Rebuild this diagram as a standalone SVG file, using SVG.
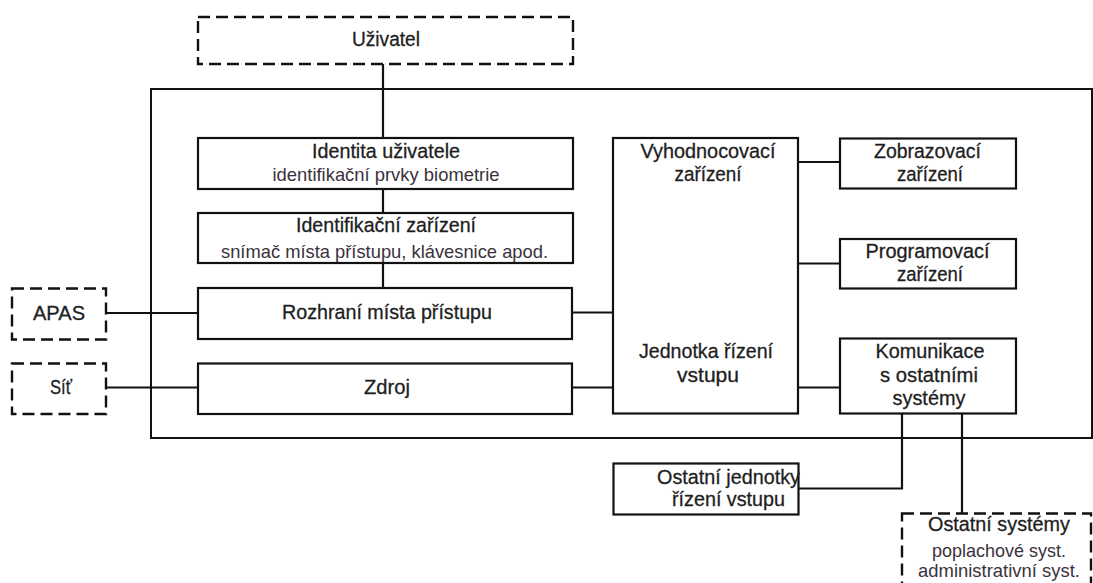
<svg xmlns="http://www.w3.org/2000/svg" width="1093" height="583" viewBox="0 0 1093 583">
<style>
.box{fill:#fff;stroke:#111;stroke-width:2.2}
.dash{fill:#fff;stroke:#111;stroke-width:2.4;stroke-dasharray:12 6}
.frame{fill:none;stroke:#111;stroke-width:2}
.conn line,.conn polyline{stroke:#111;stroke-width:2.2;fill:none}
text{font-family:"Liberation Sans",Arial,sans-serif;text-anchor:middle}
.t{font-size:20.5px;fill:#1e1e1e;stroke:#1e1e1e;stroke-width:0.3}
.s{font-size:19px;fill:#3a323c}
</style>
<rect width="1093" height="583" fill="#fff"/>
<rect id="system-frame" class="frame" x="151" y="89" width="941" height="349"/>
<g id="connectors" class="conn">
<line x1="383" y1="64" x2="383" y2="138"/>
<line x1="383" y1="189" x2="383" y2="213"/>
<line x1="383" y1="263" x2="383" y2="288"/>
<line x1="106" y1="313" x2="198" y2="313"/>
<line x1="106" y1="387.5" x2="198" y2="387.5"/>
<line x1="572" y1="312.5" x2="613" y2="312.5"/>
<line x1="572" y1="387.5" x2="613" y2="387.5"/>
<line x1="798" y1="162" x2="840" y2="162"/>
<line x1="798" y1="263.5" x2="840" y2="263.5"/>
<line x1="798" y1="387.5" x2="840" y2="387.5"/>
<polyline points="902,413.5 902,488.5 798.5,488.5"/>
<line x1="962" y1="413.5" x2="962" y2="513.5"/>
</g>
<g id="uzivatel">
<rect class="dash" x="198" y="17" width="375" height="47"/>
<text class="t" x="386" y="46" textLength="68" lengthAdjust="spacingAndGlyphs">Uživatel</text>
</g>
<g id="identita">
<rect class="box" x="198" y="138" width="375" height="51"/>
<text class="t" x="386" y="157.5" textLength="148" lengthAdjust="spacingAndGlyphs">Identita uživatele</text>
<text class="s" x="386" y="181" textLength="227" lengthAdjust="spacingAndGlyphs">identifikační prvky biometrie</text>
</g>
<g id="identifikacni-zarizeni">
<rect class="box" x="198" y="213" width="375" height="50"/>
<text class="t" x="386" y="231.5" textLength="180" lengthAdjust="spacingAndGlyphs">Identifikační zařízení</text>
<text class="s" x="384.5" y="258" textLength="327" lengthAdjust="spacingAndGlyphs">snímač místa přístupu, klávesnice apod.</text>
</g>
<g id="rozhrani">
<rect class="box" x="198" y="288" width="374" height="51"/>
<text class="t" x="387" y="318.5" textLength="210" lengthAdjust="spacingAndGlyphs">Rozhraní místa přístupu</text>
</g>
<g id="zdroj">
<rect class="box" x="198" y="363.5" width="374" height="50.5"/>
<text class="t" x="387" y="393.5" textLength="46" lengthAdjust="spacingAndGlyphs">Zdroj</text>
</g>
<g id="apas">
<rect class="dash" x="12" y="288.5" width="94" height="51"/>
<text class="t" x="59" y="319.5" textLength="52" lengthAdjust="spacingAndGlyphs">APAS</text>
</g>
<g id="sit">
<rect class="dash" x="12" y="363.5" width="94" height="50.5"/>
<text class="t" x="61" y="394" textLength="22" lengthAdjust="spacingAndGlyphs">Síť</text>
</g>
<g id="jednotka-rizeni">
<rect class="box" x="613" y="138" width="185" height="275.5"/>
<text class="t" x="708" y="157.5" textLength="135" lengthAdjust="spacingAndGlyphs">Vyhodnocovací</text>
<text class="t" x="708" y="181" textLength="67" lengthAdjust="spacingAndGlyphs">zařízení</text>
<text class="t" x="706" y="358" textLength="134" lengthAdjust="spacingAndGlyphs">Jednotka řízení</text>
<text class="t" x="708" y="382" textLength="62" lengthAdjust="spacingAndGlyphs">vstupu</text>
</g>
<g id="zobrazovaci">
<rect class="box" x="840" y="138.5" width="176" height="50"/>
<text class="t" x="927.5" y="157.5" textLength="107" lengthAdjust="spacingAndGlyphs">Zobrazovací</text>
<text class="t" x="930" y="181" textLength="66" lengthAdjust="spacingAndGlyphs">zařízení</text>
</g>
<g id="programovaci">
<rect class="box" x="840" y="239" width="176" height="49.5"/>
<text class="t" x="927.5" y="258" textLength="124" lengthAdjust="spacingAndGlyphs">Programovací</text>
<text class="t" x="930" y="281" textLength="66" lengthAdjust="spacingAndGlyphs">zařízení</text>
</g>
<g id="komunikace">
<rect class="box" x="840" y="338.5" width="176" height="75"/>
<text class="t" x="930" y="357.5" textLength="109" lengthAdjust="spacingAndGlyphs">Komunikace</text>
<text class="t" x="929" y="382" textLength="98" lengthAdjust="spacingAndGlyphs">s ostatními</text>
<text class="t" x="929" y="405" textLength="73" lengthAdjust="spacingAndGlyphs">systémy</text>
</g>
<g id="ostatni-jednotky">
<rect class="box" x="613.5" y="463.5" width="185" height="51"/>
<text class="t" x="728.5" y="483.5" textLength="143" lengthAdjust="spacingAndGlyphs">Ostatní jednotky</text>
<text class="t" x="728.5" y="506" textLength="113" lengthAdjust="spacingAndGlyphs">řízení vstupu</text>
</g>
<g id="ostatni-systemy">
<rect class="dash" x="902" y="513.5" width="189" height="85"/>
<text class="t" x="999" y="531" textLength="142" lengthAdjust="spacingAndGlyphs">Ostatní systémy</text>
<text class="s" x="999" y="557" textLength="134" lengthAdjust="spacingAndGlyphs">poplachové syst.</text>
<text class="s" x="999" y="577" textLength="162" lengthAdjust="spacingAndGlyphs">administrativní syst.</text>
</g>
</svg>
